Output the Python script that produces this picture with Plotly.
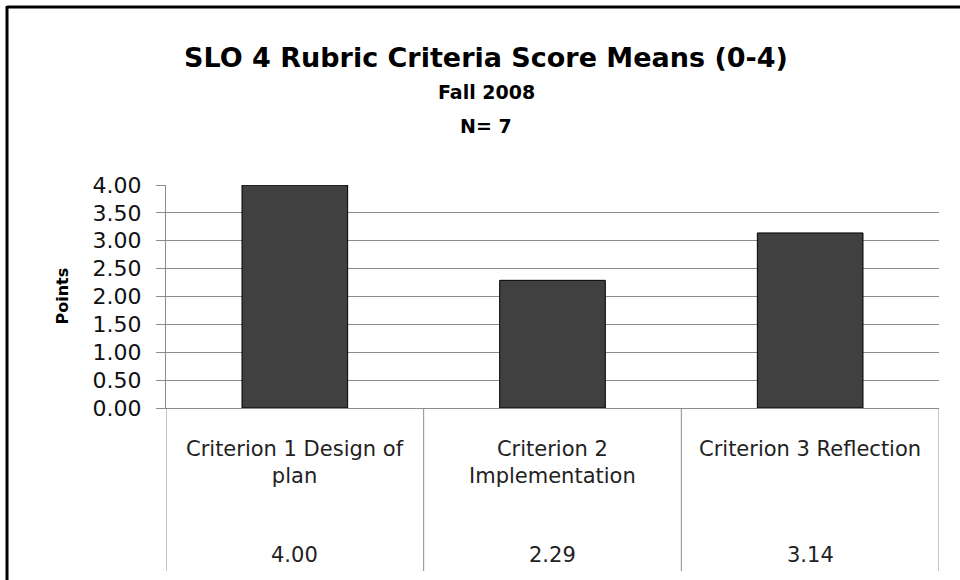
import plotly.graph_objects as go

# ---- data ----
categories = ["Criterion 1 Design of plan", "Criterion 2 Implementation", "Criterion 3 Reflection"]
table_labels = ["Criterion 1 Design of<br>plan", "Criterion 2<br>Implementation", "Criterion 3 Reflection"]
values = [4.00, 2.29, 3.14]
y_ticks = [0, 0.5, 1.0, 1.5, 2.0, 2.5, 3.0, 3.5, 4.0]
title_lines = ["SLO 4 Rubric Criteria Score Means (0-4)", "Fall 2008", "N= 7"]
y_title = "Points"

FONT = "DejaVu Sans"
GRID = "#8c8c8c"

fig = go.Figure()
fig.add_trace(go.Bar(
    x=categories, y=values, width=0.41,
    marker=dict(color="#404040", line=dict(color="#000000", width=1)),
    hoverinfo="x+y",
))

L, R, T, B = 166, 21, 185, 172
W, H = 960, 580

fig.update_layout(
    width=W, height=H,
    margin=dict(l=L, r=R, t=T, b=B, pad=0),
    paper_bgcolor="white", plot_bgcolor="white",
    showlegend=False,
    font=dict(family=FONT, color="#000"),
)
fig.update_xaxes(
    type="category", range=[-0.5, 2.5], showticklabels=False, ticks="",
    showgrid=False, showline=True, linecolor=GRID, linewidth=1, zeroline=False,
)
fig.update_yaxes(
    range=[0, 4], tickvals=y_ticks, ticktext=[f"{v:.2f}" for v in y_ticks],
    tickfont=dict(family=FONT, size=22, color="#111"),
    ticks="outside", ticklen=9, tickcolor=GRID, tickwidth=1, ticklabelstandoff=10,
    showgrid=True, gridcolor=GRID, gridwidth=1,
    showline=True, linecolor=GRID, linewidth=1, zeroline=False,
)

# Y axis title
fig.add_annotation(
    text=f"<b>{y_title}</b>", xref="paper", yref="paper", x=0, y=0.5, xshift=62 - L,
    textangle=-90, xanchor="center", yanchor="middle", showarrow=False,
    font=dict(family=FONT, size=16, color="#000"),
)

# Title lines
title_y = [57, 92, 126]
title_sizes = [27, 19, 19]
for txt, py, sz in zip(title_lines, title_y, title_sizes):
    fig.add_annotation(
        text=f"<b>{txt}</b>", xref="paper", yref="paper", x=(486 - L) / (W - L - R), y=1,
        yshift=(T - py), xanchor="center", yanchor="middle", showarrow=False,
        font=dict(family=FONT, size=sz, color="#000"),
    )

# Data table below the axis
for i, (lab, v) in enumerate(zip(table_labels, values)):
    fig.add_annotation(
        text=lab, xref="x", yref="paper", x=i, y=0, yshift=-27,
        xanchor="center", yanchor="top", showarrow=False,
        font=dict(family=FONT, size=21, color="#222"),
    )
    fig.add_annotation(
        text=f"{v:.2f}", xref="x", yref="paper", x=i, y=0, yshift=-147,
        xanchor="center", yanchor="middle", showarrow=False,
        font=dict(family=FONT, size=21, color="#222"),
    )

shapes = []
for xb in [-0.5, 0.5, 1.5, 2.5]:
    shapes.append(dict(
        type="line", xref="x", yref="paper", ysizemode="pixel", yanchor=0,
        x0=xb, x1=xb, y0=0, y1=-163, line=dict(color=GRID, width=1),
    ))
# outer chart frame (top and left edges visible)
shapes.append(dict(
    type="line", xref="paper", yref="paper", xsizemode="pixel", ysizemode="pixel",
    xanchor=0, yanchor=1, x0=7 - L, x1=W, y0=T - 7, y1=T - 7,
    line=dict(color="#000", width=3),
))
shapes.append(dict(
    type="line", xref="paper", yref="paper", xsizemode="pixel", ysizemode="pixel",
    xanchor=0, yanchor=1, x0=7 - L, x1=7 - L, y0=T - 6, y1=-600,
    line=dict(color="#000", width=3),
))
fig.update_layout(shapes=shapes)

fig.write_html("out.html", config={"displayModeBar": False},
               post_script="document.body.style.margin='0';")
